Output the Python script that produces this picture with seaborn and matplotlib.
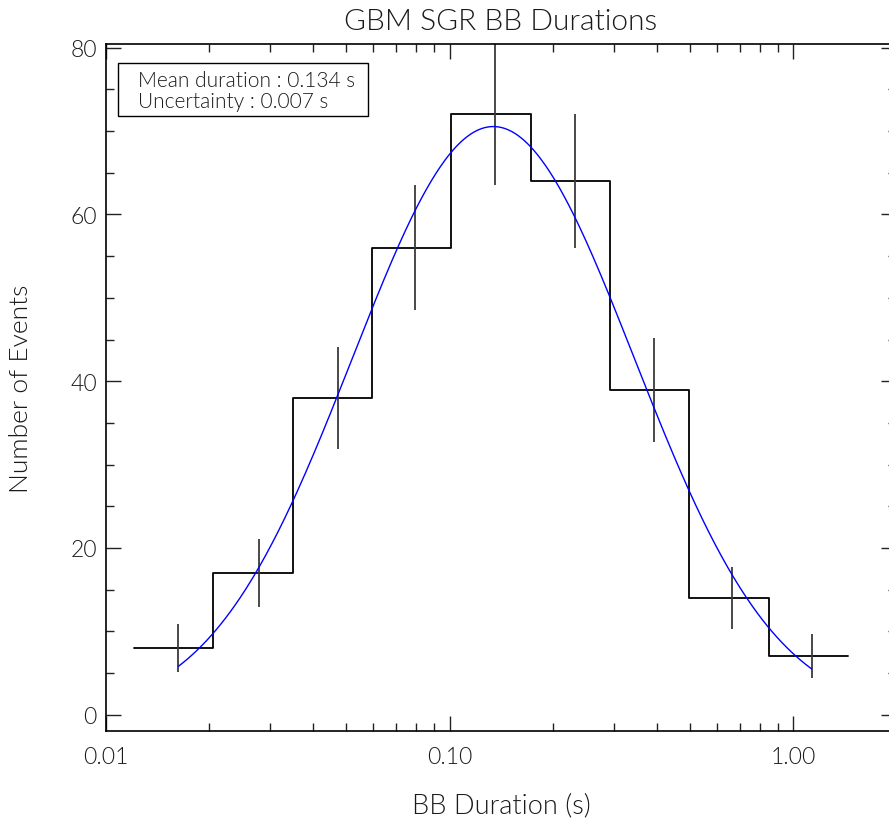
import numpy as np
import pandas as pd
import matplotlib
matplotlib.use("Agg")
import matplotlib.pyplot as plt
import seaborn as sns
from matplotlib.ticker import FixedLocator, NullFormatter, MultipleLocator, LogLocator
from matplotlib.patches import Rectangle

# ---- data ----
bin_edges = [0.01206, 0.02052, 0.03492, 0.05941, 0.1011, 0.1720, 0.2927, 0.4980, 0.8474, 1.442]
counts = [8, 17, 38, 56, 72, 64, 39, 14, 7]
err_x = [0.01624, 0.0278, 0.0472, 0.0795, 0.1354, 0.2312, 0.3926, 0.6627, 1.131]
err_y = [2.83, 4.12, 6.16, 7.48, 8.49, 8.00, 6.24, 3.74, 2.65]
fit_amp = 70.55          # peak of fitted log-normal
fit_mean = 0.134         # s
fit_sigma = 0.41         # decades
x_ticks = [0.01, 0.1, 1.0]
x_ticklabels = ["0.01", "0.10", "1.00"]
y_ticks = [0, 20, 40, 60, 80]

sns.set_style("ticks")
FONT = ["Lato", "DejaVu Sans"]
plt.rcParams["font.family"] = FONT
plt.rcParams["font.weight"] = 300
plt.rcParams["axes.titleweight"] = 300
plt.rcParams["axes.labelweight"] = 300
TXT = "#1a1a1a"

fig = plt.figure(figsize=(8.89, 8.20), dpi=100)
ax = fig.add_axes([106 / 889, 88 / 820, (896 - 106) / 889, (732 - 45) / 820])

# step histogram (IDL psym=10 style)
step_df = pd.DataFrame({"x": bin_edges, "y": counts + [counts[-1]]})
sns.lineplot(data=step_df, x="x", y="y", drawstyle="steps-post", color="black",
             lw=1.3, estimator=None, sort=False, ax=ax)

# error bars
ax.errorbar(err_x, counts, yerr=err_y, fmt="none", ecolor="#3a3a3a", elinewidth=1.3, capsize=0)

# fitted curve
xf = np.logspace(np.log10(err_x[0]), np.log10(err_x[-1]), 400)
yf = fit_amp * np.exp(-(np.log10(xf) - np.log10(fit_mean)) ** 2 / (2 * fit_sigma ** 2))
fit_df = pd.DataFrame({"x": xf, "y": yf})
sns.lineplot(data=fit_df, x="x", y="y", color="blue", lw=1.0, estimator=None, sort=False, ax=ax)

ax.set_xscale("log")
ax.set_xlim(0.01, 1.99)
ax.set_ylim(-1.95, 80.45)

ax.xaxis.set_major_locator(FixedLocator(x_ticks))
ax.set_xticklabels(x_ticklabels)
ax.xaxis.set_minor_locator(LogLocator(base=10, subs=np.arange(2, 10)))
ax.xaxis.set_minor_formatter(NullFormatter())
ax.yaxis.set_major_locator(FixedLocator(y_ticks))
ax.yaxis.set_minor_locator(MultipleLocator(5))

ax.tick_params(which="both", direction="in", top=True, right=True, width=1.0, color="#222222",
               labelsize=16.5, labelcolor=TXT)
ax.tick_params(which="major", length=10.5)
ax.tick_params(which="minor", length=5.5)
ax.tick_params(axis="x", which="major", pad=11)
ax.tick_params(axis="y", which="major", pad=6.5)
for s in ax.spines.values():
    s.set_linewidth(1.2)
    s.set_color("black")

ax.set_title("GBM SGR BB Durations", fontsize=21.5, color=TXT, pad=10.5)
ax.set_xlabel("BB Duration (s)", fontsize=19.5, color=TXT)
ax.set_ylabel("Number of Events", fontsize=19, color=TXT)
ax.xaxis.set_label_coords(0.5, (14 - 88) / 687)
ax.xaxis.label.set_verticalalignment("center")
ax.yaxis.set_label_coords((21 - 106) / 790, 0.5)
ax.yaxis.label.set_verticalalignment("center")

# legend-like box
ax.text(138 / 889, 1 - 91.5 / 820, "Mean duration : 0.134 s\nUncertainty : 0.007 s",
        transform=fig.transFigure, fontsize=15, color=TXT, va="center", ha="left",
        linespacing=1.05)
fig.patches.append(Rectangle((118 / 889, 1 - 117 / 820), 250 / 889, 53 / 820,
                             transform=fig.transFigure, fill=False, lw=1.0, ec="black"))

fig.savefig("out.png", dpi=100)
